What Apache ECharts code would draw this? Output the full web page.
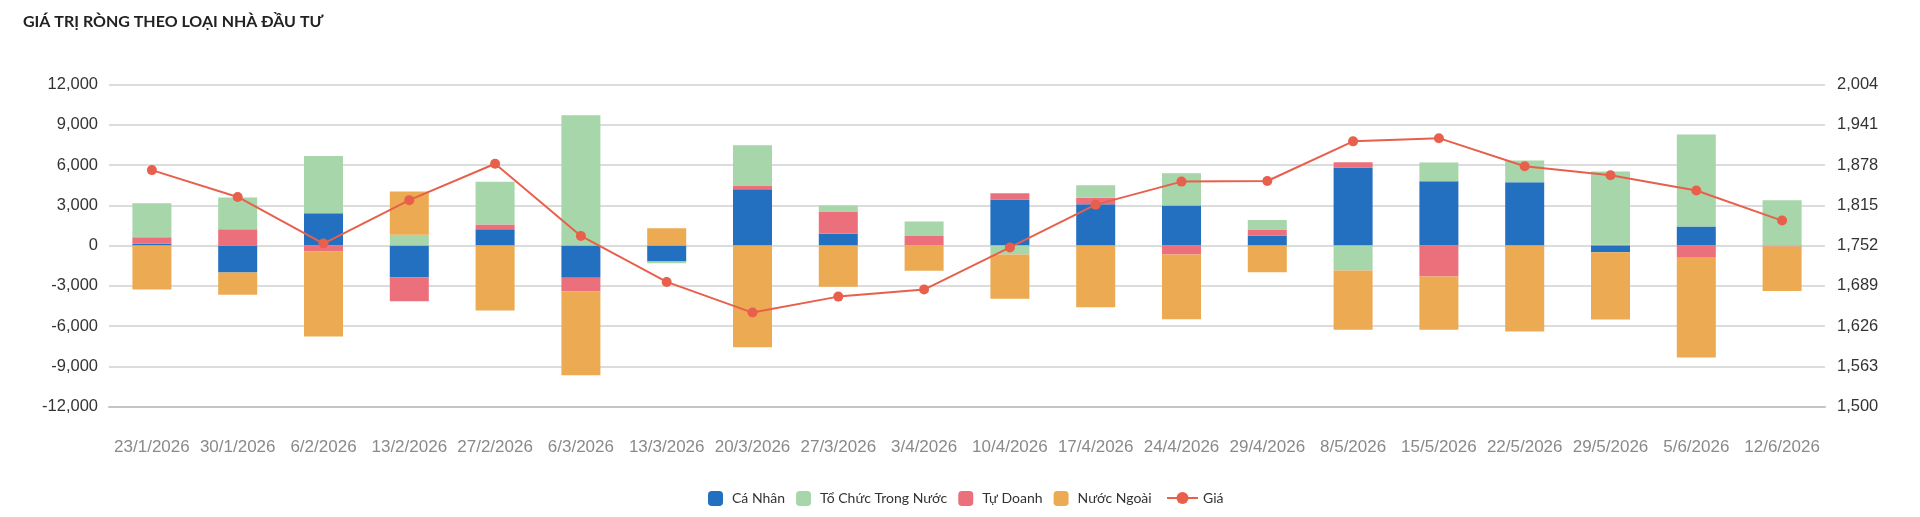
<!DOCTYPE html>
<html>
<head>
<meta charset="utf-8">
<script src="https://cdn.jsdelivr.net/npm/echarts@6/dist/echarts.min.js"></script>
<style>
html, body { margin: 0; padding: 0; background: #fff; }
#chart { width: 1920px; height: 517px; }
</style>
</head>
<body>
<div id="chart"></div>
<script>
var categories = ['23/1/2026', '30/1/2026', '6/2/2026', '13/2/2026', '27/2/2026', '6/3/2026', '13/3/2026',
    '20/3/2026', '27/3/2026', '3/4/2026', '10/4/2026', '17/4/2026', '24/4/2026', '29/4/2026',
    '8/5/2026', '15/5/2026', '22/5/2026', '29/5/2026', '5/6/2026', '12/6/2026'];

// gia tri rong (ty dong)
var caNhan = [150, -2010, 2410, -2390, 1220, -2410, -1200, 4200, 870, 0,
    3430, 3080, 2980, 750, 5810, 4790, 4720, -500, 1420, 0];
var tuDoanh = [470, 1220, -450, -1760, 350, -1020, 0, 270, 1660, 700,
    470, 470, -670, 450, 400, -2310, 0, 50, -920, -80];
var toChuc = [2530, 2360, 4270, 800, 3180, 9710, -120, 3010, 450, 1090,
    -670, 940, 2410, 700, -1860, 1390, 1610, 5460, 6860, 3370];
var nuocNgoai = [-3280, -1660, -6330, 3230, -4840, -6240, 1290, -7580, -3080, -1890,
    -3300, -4600, -4820, -1990, -4420, -3970, -6410, -5020, -7430, -3310];
// gia (truc phai)
var gia = [1870, 1828, 1755, 1823, 1880, 1767, 1695, 1647, 1672, 1683,
    1749, 1816, 1852, 1853, 1915, 1920, 1876, 1862, 1838, 1791];

var myChart = echarts.init(document.getElementById('chart'));

function fmt(v) {
    return v.toLocaleString('en-US');
}

function barSeries(name, data, color) {
    return {
        name: name,
        type: 'bar',
        stack: 'net',
        barWidth: 39,
        data: data,
        itemStyle: { color: color }
    };
}

var legendText = { fontFamily: 'Lato', fontSize: 14, color: '#333', padding: [0, 0, 0, 4] };

myChart.setOption({
    animation: false,
    title: {
        text: 'GIÁ TRỊ RÒNG THEO LOẠI NHÀ ĐẦU TƯ',
        left: 18,
        top: 9,
        textStyle: {
            fontFamily: 'Lato',
            fontSize: 16,
            fontWeight: 'bold',
            color: '#222'
        }
    },
    legend: [{
        data: ['Cá Nhân', 'Tổ Chức Trong Nước', 'Tự Doanh', 'Nước Ngoài'],
        left: 703,
        top: 486,
        itemWidth: 15,
        itemHeight: 15,
        itemGap: 11,
        icon: 'roundRect',
        textStyle: legendText
    }, {
        data: ['Giá'],
        left: 1161,
        top: 486,
        itemWidth: 31,
        itemHeight: 15,
        textStyle: { fontFamily: 'Lato', fontSize: 14, color: '#333' }
    }],
    grid: {
        left: 109,
        right: 95,
        top: 84.5,
        bottom: 110.5
    },
    xAxis: {
        type: 'category',
        data: categories,
        axisTick: { show: false },
        axisLine: { onZero: false, lineStyle: { color: '#c4c4c4', width: 2 } },
        axisLabel: {
            interval: 0,
            margin: 32,
            fontFamily: 'Liberation Sans',
            fontSize: 17,
            color: '#8a8a8a'
        }
    },
    yAxis: [{
        type: 'value',
        min: -12000,
        max: 12000,
        interval: 3000,
        axisLine: { show: false },
        axisTick: { show: false },
        splitLine: { lineStyle: { color: '#dcdcdc', width: 2 } },
        axisLabel: {
            margin: 11,
            fontFamily: 'Liberation Sans',
            fontSize: 16.5,
            color: '#333',
            formatter: fmt
        }
    }, {
        type: 'value',
        min: 1500,
        max: 2004,
        interval: 63,
        axisLine: { show: false },
        axisTick: { show: false },
        splitLine: { show: false },
        axisLabel: {
            margin: 12,
            fontFamily: 'Liberation Sans',
            fontSize: 16.5,
            color: '#333',
            formatter: fmt
        }
    }],
    series: [
        barSeries('Cá Nhân', caNhan, '#2470C0'),
        barSeries('Tự Doanh', tuDoanh, '#EB707C'),
        barSeries('Tổ Chức Trong Nước', toChuc, '#A6D6AA'),
        barSeries('Nước Ngoài', nuocNgoai, '#ECAA52'),
        {
            name: 'Giá',
            type: 'line',
            yAxisIndex: 1,
            data: gia,
            symbol: 'circle',
            symbolSize: 10,
            z: 5,
            lineStyle: { color: '#E8604C', width: 2 },
            itemStyle: { color: '#E8604C' }
        }
    ]
});
</script>
</body>
</html>
